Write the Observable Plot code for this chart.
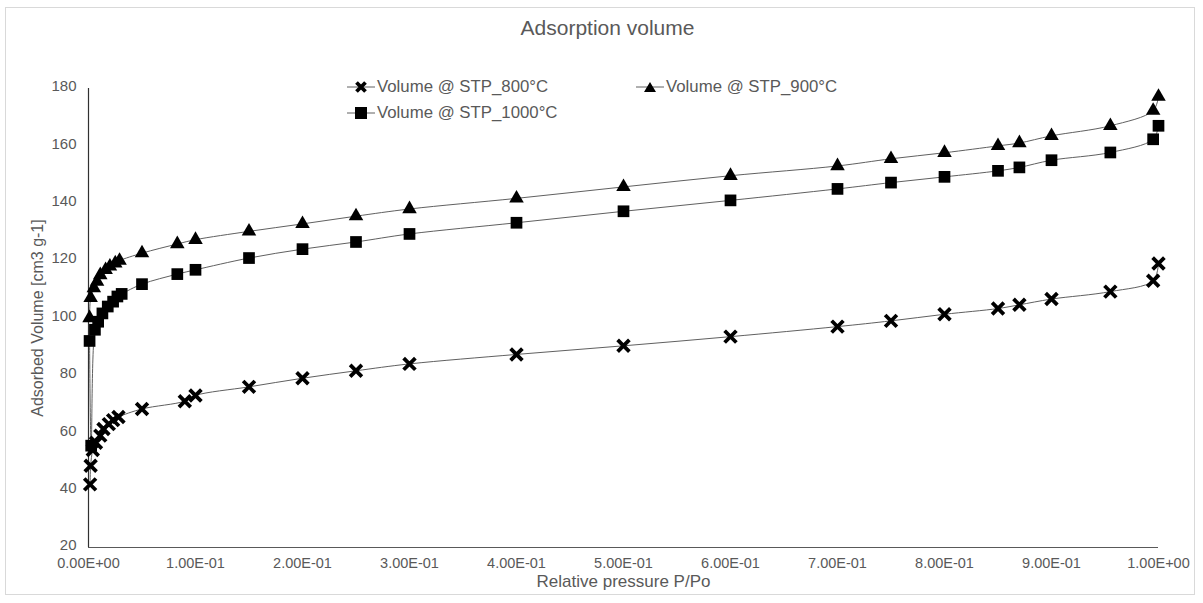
<!DOCTYPE html>
<html>
<head>
<meta charset="utf-8">
<script src="https://cdn.jsdelivr.net/npm/d3@7"></script>
<script src="https://cdn.jsdelivr.net/npm/@observablehq/plot@0.6"></script>
<style>
  html, body { margin: 0; padding: 0; background: #fff; }
  body { font-family: "Liberation Sans", Arial, sans-serif; }
  #wrap { position: relative; width: 1203px; height: 603px; overflow: hidden; }
  #frame { position: absolute; left: 5px; top: 7px; width: 1190px; height: 588px; border: 1px solid #d9d9d9; box-sizing: border-box; }
  #title { position: absolute; left: 0; width: 1215px; top: 16px; text-align: center; font-size: 21px; color: #595959; }
  .leg { position: absolute; display: flex; align-items: center; font-size: 16.8px; color: #595959; white-space: nowrap; height: 20px; }
  .leg svg { margin-right: 2px; }
  #chart { position: absolute; left: 0; top: 0; }
</style>
</head>
<body>
<div id="wrap">
  <div id="frame"></div>
  <div id="chart"></div>
  <div id="title">Adsorption volume</div>
  <div id="legend"></div>
</div>
<script>
// ---- data ----
const seriesNames = ["Volume @ STP_800°C", "Volume @ STP_900°C", "Volume @ STP_1000°C"];

const p800 = [0.0015, 0.002, 0.004, 0.007, 0.011, 0.014, 0.019, 0.023, 0.028, 0.05, 0.09, 0.1, 0.15, 0.2, 0.25, 0.3, 0.4, 0.5, 0.6, 0.7, 0.75, 0.8, 0.85, 0.87, 0.9, 0.955, 0.995, 1.0];
const v800 = [42, 48.5, 54, 56.5, 59, 61.3, 63, 64.4, 65.5, 68.3, 71, 73, 76, 79, 81.6, 84, 87.3, 90.3, 93.5, 97, 99, 101.3, 103.3, 104.6, 106.6, 109.2, 113, 119];

const p900 = [0.001, 0.002, 0.005, 0.008, 0.011, 0.016, 0.02, 0.025, 0.029, 0.05, 0.083, 0.1, 0.15, 0.2, 0.25, 0.3, 0.4, 0.5, 0.6, 0.7, 0.75, 0.8, 0.85, 0.87, 0.9, 0.955, 0.995, 1.0];
const v900 = [100, 107, 110.4, 112.7, 115, 116.8, 118, 119.1, 120, 122.6, 125.8, 127.3, 130.2, 132.8, 135.5, 138, 141.7, 145.7, 149.6, 153, 155.5, 157.6, 160, 161, 163.5, 167, 172.3, 177.2];

const p1000 = [0.001, 0.0025, 0.006, 0.009, 0.013, 0.018, 0.023, 0.027, 0.031, 0.05, 0.083, 0.1, 0.15, 0.2, 0.25, 0.3, 0.4, 0.5, 0.6, 0.7, 0.75, 0.8, 0.85, 0.87, 0.9, 0.955, 0.995, 1.0];
const v1000 = [92, 55.5, 95.9, 98.7, 101.6, 104, 105.7, 107.5, 108.4, 111.8, 115.3, 116.8, 120.9, 124, 126.5, 129.3, 133.2, 137.2, 141, 145, 147.2, 149.2, 151.3, 152.5, 155, 157.7, 162.3, 167];

const xTicks = [0, 0.1, 0.2, 0.3, 0.4, 0.5, 0.6, 0.7, 0.8, 0.9, 1.0];
const xTickLabels = ["0.00E+00", "1.00E-01", "2.00E-01", "3.00E-01", "4.00E-01", "5.00E-01", "6.00E-01", "7.00E-01", "8.00E-01", "9.00E-01", "1.00E+00"];
const yTicks = [20, 40, 60, 80, 100, 120, 140, 160, 180];

// ---- build table ----
function rows(name, ps, vs) { return ps.map((p, i) => ({series: name, p, v: vs[i]})); }
const d800 = rows(seriesNames[0], p800, v800);
const d900 = rows(seriesNames[1], p900, v900);
const d1000 = rows(seriesNames[2], p1000, v1000);

const lineStyle = {x: "p", y: "v", stroke: "#606060", strokeWidth: 1, curve: "catmull-rom"};

const chart = Plot.plot({
  width: 1203,
  height: 603,
  marginLeft: 88,
  marginRight: 45,
  marginTop: 88,
  marginBottom: 56,
  style: {fontFamily: "Liberation Sans, Arial, sans-serif", fontSize: "15px", color: "#595959", background: "transparent"},
  x: {domain: [0, 1]},
  y: {domain: [20, 180]},
  marks: [
    Plot.ruleY([20], {stroke: "#595959", strokeWidth: 1.2}),
    Plot.ruleX([0], {stroke: "#303030", strokeWidth: 1.2}),
    Plot.line(d1000, lineStyle),
    Plot.line(d900, lineStyle),
    Plot.line(d800, lineStyle),
    Plot.dot(d1000, {x: "p", y: "v", symbol: "square", fill: "black", r: 6.6}),
    Plot.dot(d900, {x: "p", y: "v", symbol: "triangle", fill: "black", r: 5.4}),
    Plot.dot(d800, {x: "p", y: "v", symbol: "times", stroke: "black", strokeWidth: 3.8, r: 5.4}),
    Plot.axisX(xTicks, {tickSize: 0, tickPadding: 10, tickFormat: (d, i) => xTickLabels[i], fill: "#595959", fontSize: 14.5,
      label: null}),
    Plot.axisY(yTicks, {tickSize: 0, tickPadding: 12, fill: "#595959", fontSize: 15, dy: -2, label: null}),
    Plot.text(["Relative pressure P/Po"], {frameAnchor: "bottom", dy: 34, fontSize: 17, fill: "#595959", textAnchor: "middle", lineAnchor: "middle"}),
    Plot.text(["Adsorbed Volume [cm3 g-1]"], {frameAnchor: "left", dx: -51, rotate: -90, fontSize: 16, fill: "#595959", textAnchor: "middle", lineAnchor: "middle"})
  ]
});
document.getElementById("chart").appendChild(chart);

// ---- legend ----
const legendItems = [
  {name: seriesNames[0], sym: "times", left: 347, top: 77},
  {name: seriesNames[1], sym: "triangle", left: 636, top: 77},
  {name: seriesNames[2], sym: "square", left: 347, top: 103}
];
const legend = document.getElementById("legend");
for (const it of legendItems) {
  const div = document.createElement("div");
  div.className = "leg";
  div.style.left = it.left + "px";
  div.style.top = it.top + "px";
  let m = "";
  if (it.sym === "times") m = '<path d="M9.5,2.5 L18.5,11.5 M18.5,2.5 L9.5,11.5" stroke="black" stroke-width="3.8"/>';
  if (it.sym === "triangle") m = '<path d="M14,2 L20,12 L8,12 Z" fill="black"/>';
  if (it.sym === "square") m = '<rect x="8" y="1" width="12" height="12" fill="black"/>';
  div.innerHTML = '<svg width="28" height="14"><line x1="0" x2="28" y1="7" y2="7" stroke="#606060" stroke-width="1"/>' + m + '</svg><span>' + it.name + '</span>';
  legend.appendChild(div);
}
</script>
</body>
</html>
